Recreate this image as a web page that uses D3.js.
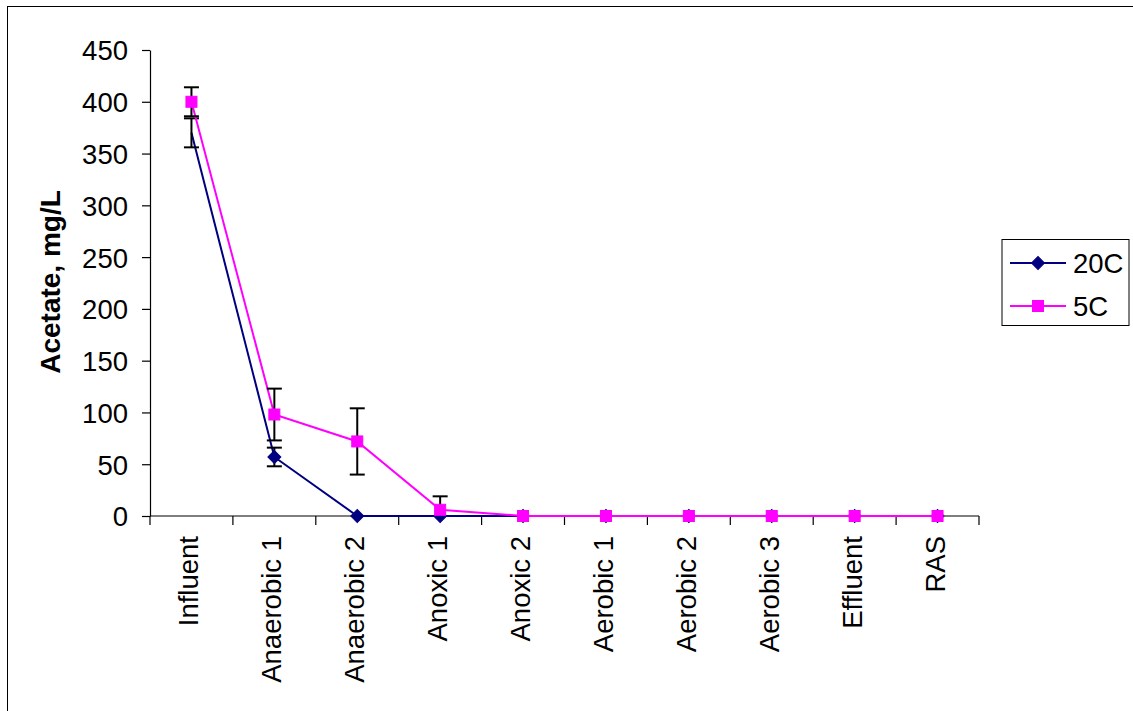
<!DOCTYPE html>
<html>
<head>
<meta charset="utf-8">
<script src="https://cdn.jsdelivr.net/npm/d3@7"></script>
<style>
  html, body { margin: 0; padding: 0; background: #fff; }
  svg { display: block; font-family: "Liberation Sans", Arial, sans-serif; }
</style>
</head>
<body>
<svg id="chart" width="1133" height="711"></svg>
<script>
// Sampling points along the treatment train
const categories = ["Influent", "Anaerobic 1", "Anaerobic 2", "Anoxic 1", "Anoxic 2",
                    "Aerobic 1", "Aerobic 2", "Aerobic 3", "Effluent", "RAS"];

// Acetate, mg/L
const values20C = [370, 57, 0, 0, 0, 0, 0, 0, 0, 0];
const values5C  = [400, 98, 72, 6, 0, 0, 0, 0, 0, 0];

// Standard deviations (error bars), null = no bar
const err20C = [14, 9, null, null, null, null, null, null, null, null];
const err5C  = [14, 25, 32, 13, null, null, null, null, null, null];

// Points drawn without a marker
const hideMarker20C = [true, false, false, false, false, false, false, false, false, false];
const hideMarker5C  = [false, false, false, false, false, false, false, false, false, false];

const yTicks = [0, 50, 100, 150, 200, 250, 300, 350, 400, 450];
const seriesNames = ["20C", "5C"];

const svg = d3.select("#chart");

// outer chart frame
svg.append("rect")
  .attr("x", 7.5).attr("y", 6.5)
  .attr("width", 1200).attr("height", 800)
  .attr("fill", "#fff").attr("stroke", "#000").attr("stroke-width", 1);

const plot = { left: 150, right: 979, top: 50, bottom: 516 };

const x = d3.scaleBand().domain(categories).range([plot.left, plot.right]).padding(0);
const y = d3.scaleLinear().domain([0, 450]).range([plot.bottom, plot.top]);
const cx = c => x(c) + x.bandwidth() / 2;

const fontSize = 27.5;

// y axis
const yAxis = svg.append("g")
  .attr("transform", `translate(${plot.left},0)`)
  .call(d3.axisLeft(y).tickValues(yTicks).tickSize(8).tickPadding(14).tickSizeOuter(0));
yAxis.select(".domain").attr("stroke", "#000").attr("stroke-width", 1.2);
yAxis.selectAll(".tick line").attr("stroke", "#000").attr("stroke-width", 1.2);
yAxis.selectAll(".tick text")
  .attr("font-size", fontSize).attr("fill", "#000")
  .attr("font-family", "'Liberation Sans', Arial, sans-serif")
  .attr("dy", "0.36em");

// x axis: ticks sit on category boundaries
const xAxisG = svg.append("g").attr("transform", `translate(0,${plot.bottom})`);
xAxisG.append("line")
  .attr("x1", plot.left).attr("x2", plot.right)
  .attr("stroke", "#000").attr("stroke-width", 1.2);
const boundaries = categories.map(c => x(c)).concat([plot.right]);
xAxisG.selectAll("line.tk").data(boundaries).join("line")
  .attr("class", "tk")
  .attr("x1", d => d).attr("x2", d => d)
  .attr("y1", 0).attr("y2", 9)
  .attr("stroke", "#000").attr("stroke-width", 1.2);
xAxisG.selectAll("text").data(categories).join("text")
  .attr("transform", d => `translate(${cx(d) + 7},20) rotate(-90)`)
  .attr("text-anchor", "end")
  .attr("font-size", fontSize)
  .attr("fill", "#000")
  .text(d => d);

// y axis title
svg.append("text")
  .attr("transform", `translate(60,282) rotate(-90)`)
  .attr("text-anchor", "middle")
  .attr("font-size", 28)
  .attr("font-weight", "bold")
  .attr("fill", "#000")
  .text("Acetate, mg/L");

// clip error bars to the plotting area
svg.append("clipPath").attr("id", "plotClip")
  .append("rect")
  .attr("x", plot.left - 20).attr("y", plot.top - 20)
  .attr("width", plot.right - plot.left + 40)
  .attr("height", plot.bottom - plot.top + 20);

const series = [
  { name: seriesNames[0], values: values20C, errs: err20C, hide: hideMarker20C, color: "#000080", marker: "diamond" },
  { name: seriesNames[1], values: values5C,  errs: err5C,  hide: hideMarker5C,  color: "#FF00FF", marker: "square" }
];

function drawMarker(g, kind, color, px, py) {
  if (kind === "diamond") {
    g.append("path")
      .attr("d", d3.symbol().type(d3.symbolSquare).size(84)())
      .attr("transform", `translate(${px},${py}) rotate(45)`)
      .attr("fill", color).attr("stroke", color).attr("stroke-width", 1);
  } else {
    g.append("rect")
      .attr("x", px - 5.5).attr("y", py - 5.5)
      .attr("width", 11).attr("height", 11)
      .attr("fill", color).attr("stroke", color).attr("stroke-width", 1);
  }
}

const line = d3.line()
  .x((d, i) => cx(categories[i]))
  .y(d => y(d));

series.forEach(s => {
  const g = svg.append("g");
  // series line
  g.append("path")
    .datum(s.values)
    .attr("d", line)
    .attr("fill", "none")
    .attr("stroke", s.color)
    .attr("stroke-width", 2);

  // error bars
  const eg = g.append("g").attr("clip-path", "url(#plotClip)");
  s.values.forEach((v, i) => {
    const e = s.errs[i];
    if (e == null) return;
    const px = cx(categories[i]);
    const y1 = y(v + e), y2 = y(v - e);
    eg.append("line").attr("x1", px).attr("x2", px).attr("y1", y1).attr("y2", y2)
      .attr("stroke", "#000").attr("stroke-width", 2);
    [y1, y2].forEach(yy => {
      eg.append("line").attr("x1", px - 7.5).attr("x2", px + 7.5).attr("y1", yy).attr("y2", yy)
        .attr("stroke", "#000").attr("stroke-width", 2);
    });
  });

  // markers
  s.values.forEach((v, i) => {
    if (s.hide[i]) return;
    drawMarker(g, s.marker, s.color, cx(categories[i]), y(v));
  });
});

// legend
const lg = svg.append("g");
lg.append("rect")
  .attr("x", 1002).attr("y", 239.5)
  .attr("width", 127).attr("height", 86)
  .attr("fill", "#fff").attr("stroke", "#000").attr("stroke-width", 1);
series.forEach((s, i) => {
  const ly = 263 + i * 43;
  lg.append("line").attr("x1", 1010).attr("x2", 1066).attr("y1", ly).attr("y2", ly)
    .attr("stroke", s.color).attr("stroke-width", 2);
  drawMarker(lg, s.marker, s.color, 1038, ly);
  lg.append("text")
    .attr("x", 1073).attr("y", ly).attr("dy", "0.36em")
    .attr("font-size", fontSize).attr("fill", "#000")
    .text(s.name);
});
</script>
</body>
</html>
